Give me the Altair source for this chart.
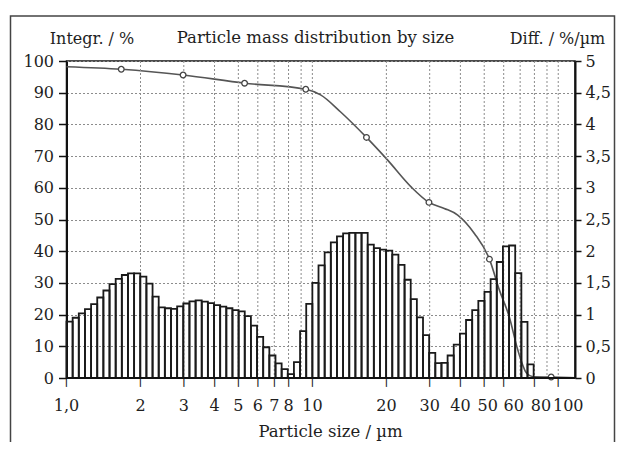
import altair as alt
import pandas as pd

# ---- data ----
# Differential distribution (bars): heights read on the left (0-100) grid, 40 bins per decade from 1 µm
bar_heights_pct = [17.8, 19.0, 20.4, 21.7, 23.3, 25.4, 27.6, 29.6, 31.3, 32.5,
                   33.0, 33.0, 32.0, 29.8, 25.7, 22.3, 22.0, 21.8, 22.6, 23.5,
                   24.2, 24.5, 24.1, 23.6, 23.0, 22.5, 22.0, 21.4, 21.0, 19.5,
                   16.5, 13.0, 9.7, 7.1, 4.6, 2.8, 1.2, 5.0, 14.8, 23.4,
                   30.0, 35.5, 39.6, 42.8, 44.7, 45.6, 45.8, 45.8, 45.8, 42.1,
                   41.0, 40.5, 40.2, 38.9, 35.7, 31.0, 24.9, 19.1, 13.5, 7.9,
                   4.7, 4.8, 7.1, 10.5, 14.0, 18.3, 21.4, 24.3, 27.2, 31.2,
                   36.6, 41.5, 41.8, 33.1, 17.7, 4.3]
bins_per_decade = 40

# Integral curve
curve_size = [1.0, 1.67, 2.98, 5.3, 9.4, 10.8, 13.0, 16.6, 20.2, 25.2, 29.8,
              34.4, 39.0, 45.6, 52.5, 57.6, 63.2, 68.5, 74.4, 79.0, 93.6, 117.0]
curve_integ = [98.2, 97.4, 95.6, 93.0, 91.1, 89.3, 84.0, 75.9, 68.8, 60.3, 55.4,
               53.5, 51.4, 45.6, 37.5, 27.8, 19.3, 8.8, 1.5, 0.4, 0.3, 0.1]

marker_size = [1.67, 2.98, 5.3, 9.4, 16.6, 29.8, 52.5, 93.6]
marker_integ = [97.4, 95.6, 93.0, 91.1, 75.9, 55.4, 37.5, 0.3]

x_tick_values = [1, 2, 3, 4, 5, 6, 7, 8, 10, 20, 30, 40, 50, 60, 80, 100]
x_tick_labels = ["1,0", "2", "3", "4", "5", "6", "7", "8", "10",
                 "20", "30", "40", "50", "60", "80", "100"]
x_grid_values = [2, 3, 4, 5, 6, 7, 8, 9, 10, 20, 30, 40, 50, 60, 70, 80, 90, 100]
left_ticks = [0, 10, 20, 30, 40, 50, 60, 70, 80, 90, 100]
right_ticks = [0, 0.5, 1, 1.5, 2, 2.5, 3, 3.5, 4, 4.5, 5]
title_text = "Particle mass distribution by size"
x_title = "Particle size / µm"

# ---- tables ----
n = len(bar_heights_pct)
edges = [10 ** (k / bins_per_decade) for k in range(n + 1)]
bars_df = pd.DataFrame({"lo": edges[:-1], "hi": edges[1:],
                        "diff": [v / 20 for v in bar_heights_pct],
                        "base": [0.0] * n})
curve_df = pd.DataFrame({"size": curve_size, "integ": curve_integ})
marker_df = pd.DataFrame({"size": marker_size, "integ": marker_integ})
grid_df = pd.DataFrame({"g": x_grid_values})
xt_df = pd.DataFrame({"v": x_tick_values, "lab": x_tick_labels})
tick_df = pd.DataFrame({"tv": x_tick_values})

FONT = "DejaVu Serif"
FS = 16
TXT = "#1e1e1e"
W, H = 508.5, 317

xscale = alt.Scale(type="log", domain=[1, 117], nice=False)
yleft = alt.Scale(domain=[0, 100], nice=False)
yright = alt.Scale(domain=[0, 5], nice=False)

left_axis = alt.Axis(orient="left", values=left_ticks, grid=True,
                     gridColor="#8c8c8c", gridDash=[2, 2], gridWidth=1,
                     labelFont=FONT, labelFontSize=FS, labelColor=TXT, labelPadding=5,
                     labelFlush=False,
                     tickSize=8, tickColor="#111", tickWidth=1.5,
                     domainColor="#111", domainWidth=2,
                     title="Integr. / %", titleFont=FONT, titleFontSize=FS,
                     titleFontWeight="normal", titleColor=TXT, titleAngle=0,
                     titleAlign="center", titleBaseline="alphabetic",
                     titleX=25, titleY=-18)

right_axis = alt.Axis(orient="right", values=right_ticks, grid=False,
                      labelExpr="replace(format(datum.value, '~g'), '.', ',')",
                      labelFont=FONT, labelFontSize=FS, labelColor=TXT, labelPadding=4,
                      labelFlush=False,
                      tickSize=6, tickColor="#111", tickWidth=1.5,
                      domainColor="#111", domainWidth=2,
                      title="Diff. / %/µm", titleFont=FONT, titleFontSize=FS,
                      titleFontWeight="normal", titleColor=TXT, titleAngle=0,
                      titleAlign="center", titleBaseline="alphabetic",
                      titleX=-18, titleY=-18)

line = alt.Chart(curve_df).mark_line(color="#555555", strokeWidth=1.6, interpolate="monotone").encode(
    x=alt.X("size:Q", scale=xscale, axis=None),
    y=alt.Y("integ:Q", scale=yleft, axis=left_axis),
)

grid = alt.Chart(grid_df).mark_rule(color="#8c8c8c", strokeDash=[2, 2], strokeWidth=1).encode(
    x=alt.X("g:Q", scale=xscale, axis=None),
)

bars = alt.Chart(bars_df).mark_rect(fillOpacity=0, stroke="#1a1a1a", strokeWidth=1.8).encode(
    x=alt.X("lo:Q", scale=xscale, axis=None),
    x2="hi:Q",
    y=alt.Y("diff:Q", scale=yright, axis=right_axis),
    y2="base:Q",
)

pts = alt.Chart(marker_df).mark_point(shape="circle", filled=True, fill="white",
                                      stroke="#444444", strokeWidth=1.3, size=32,
                                      opacity=1).encode(
    x=alt.X("size:Q", scale=xscale, axis=None),
    y=alt.Y("integ:Q", scale=yleft, axis=None),
)


def xlabel_layer(values, dx):
    return alt.Chart(xt_df).transform_filter(
        alt.FieldOneOfPredicate(field="v", oneOf=values)
    ).mark_text(font=FONT, fontSize=FS, color=TXT, align="center",
                baseline="alphabetic", clip=False, dx=dx).encode(
        x=alt.X("v:Q", scale=xscale, axis=None),
        y=alt.value(H + 33),
        text="lab:N",
    )


xl_main = xlabel_layer([1, 2, 3, 4, 5, 6, 7, 8, 10, 20, 30, 40], 0)
xl_50 = xlabel_layer([50], 3.5)
xl_60 = xlabel_layer([60], 10)
xl_80 = xlabel_layer([80], 6.5)
xl_100 = xlabel_layer([100], 10)

# bottom tick marks: short text glyphs placed through the x scale
xticks = alt.Chart(tick_df).mark_text(text="|", font="DejaVu Sans", fontSize=9,
                                      color="#111111", align="center", baseline="top",
                                      clip=False, fontWeight="bold").encode(
    x=alt.X("tv:Q", scale=xscale, axis=None),
    y=alt.value(H),
)

bottom_line = alt.Chart(pd.DataFrame({"f": [0]})).mark_rule(color="#111", strokeWidth=2).encode(
    x=alt.value(0), x2=alt.value(W), y=alt.value(H)
)

xtitle = alt.Chart(pd.DataFrame({"t": [x_title]})).mark_text(
    font=FONT, fontSize=16.5, color=TXT, align="center", baseline="alphabetic"
).encode(text="t:N", x=alt.value(264), y=alt.value(H + 59))

head = alt.Chart(pd.DataFrame({"t": [title_text]})).mark_text(
    font=FONT, fontSize=16.5, color=TXT, align="center", baseline="alphabetic"
).encode(text="t:N", x=alt.value(249), y=alt.value(-18))

frame = alt.Chart(pd.DataFrame({"f": [0]})).mark_rect(
    fillOpacity=0, stroke="#444444", strokeWidth=1.5, clip=False
).encode(x=alt.value(-56), x2=alt.value(548), y=alt.value(-45), y2=alt.value(420))

chart = alt.layer(line, grid, bars, pts, bottom_line, xl_main, xl_50, xl_60, xl_80,
                  xl_100, xtitle, head, frame, xticks).resolve_scale(
    y="independent"
).properties(
    width=W, height=H,
    autosize=alt.AutoSizeParams(type="none"),
    padding={"left": 58.5, "top": 53, "right": 41, "bottom": 64},
    background="white",
).configure_view(stroke="#111", strokeWidth=1.5)

chart.save("out.html", embed_options={"renderer": "svg", "actions": False})
